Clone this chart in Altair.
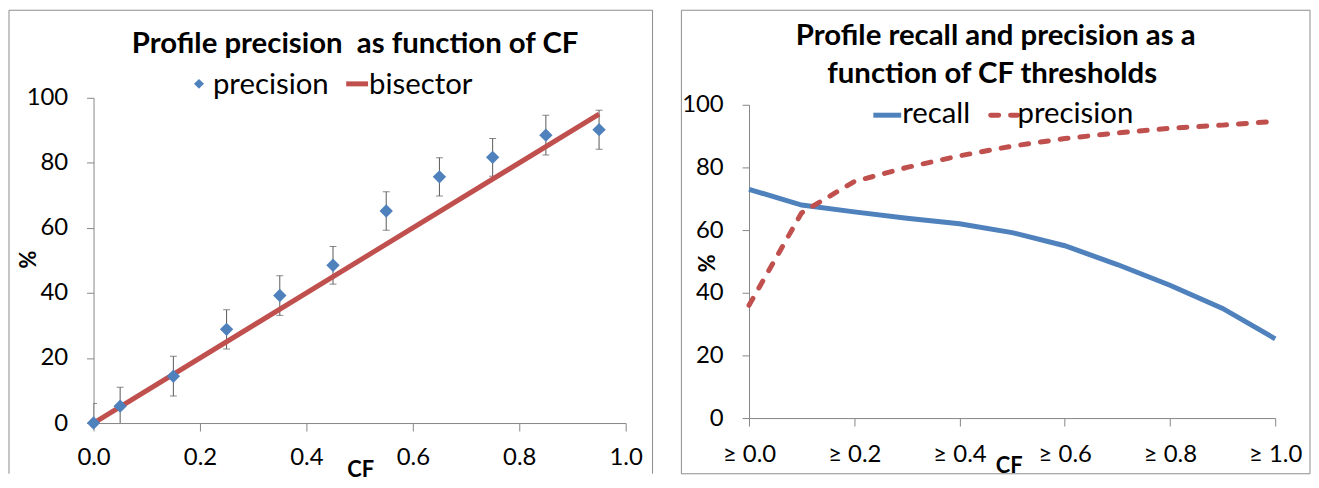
import altair as alt
import pandas as pd

# ---------------- data: left panel ----------------
cf_bins = [0.0, 0.05, 0.15, 0.25, 0.35, 0.45, 0.55, 0.65, 0.75, 0.85, 0.95]
precision_vals = [0.0, 5.2, 14.4, 28.8, 39.2, 48.5, 65.2, 75.7, 81.7, 88.5, 90.2]
precision_err = [6.0, 5.8, 6.1, 6.0, 6.1, 5.8, 5.9, 5.9, 5.8, 6.1, 6.0]
bisector_x = [0.0, 0.95]
bisector_y = [0.0, 95.0]

# ---------------- data: right panel ----------------
thresholds = [0.0, 0.1, 0.2, 0.3, 0.4, 0.5, 0.6, 0.7, 0.8, 0.9, 1.0]
recall_vals = [73.0, 68.0, 65.8, 63.8, 62.0, 59.2, 55.0, 49.0, 42.4, 35.0, 25.3]
precision_thr = [36.0, 65.5, 75.5, 80.0, 83.7, 86.8, 89.2, 91.0, 92.5, 93.5, 94.7]

left_title = "Profile precision\u00a0 as function of CF"
right_title = ["Profile recall and precision as a", "function of CF thresholds"]

FONT = "Lato"
BLUE = "#4F81BD"
RED = "#C0504D"
GREY = "#868686"
TITLE_SIZE = 29.5
LEG_SIZE = 29.5
TICK_SIZE = 24
AXIS_TITLE_SIZE = 22

left_df = pd.DataFrame({
    "cf": cf_bins,
    "precision": precision_vals,
    "low": [v - e for v, e in zip(precision_vals, precision_err)],
    "high": [v + e for v, e in zip(precision_vals, precision_err)],
})
bis_df = pd.DataFrame({"cf": bisector_x, "val": bisector_y})
right_df = pd.DataFrame({"thr": thresholds, "recall": recall_vals, "precision": precision_thr})
one = pd.DataFrame({"a": [0]})

axis_common = dict(
    labelFont=FONT, labelFontSize=TICK_SIZE, labelColor="black", labelFlush=False,
    domainColor=GREY, tickColor=GREY, grid=False,
    titleFont=FONT, titleFontSize=AXIS_TITLE_SIZE, titleFontWeight="bold", titleColor="black",
)

# ---------------- left panel ----------------
LW, LH = 535, 327
yscale_l = alt.Scale(domain=[0, 100])
lx = alt.X("cf:Q", scale=alt.Scale(domain=[0, 1]),
           axis=alt.Axis(values=[0, 0.2, 0.4, 0.6, 0.8, 1.0], format=".1f", title="CF",
                         tickSize=8, labelPadding=15, titleX=268, titleY=54,
                         titleBaseline="alphabetic", titleAlign="center", **axis_common))
ly = alt.Y("low:Q", scale=yscale_l,
           axis=alt.Axis(values=[0, 20, 40, 60, 80, 100], title="%", tickSize=7, labelPadding=19,
                         titleX=-65, titleY=162, titleAngle=270, titleBaseline="middle",
                         titleAlign="center", **axis_common))

base_l = alt.Chart(left_df)
err_rule = base_l.mark_rule(color="#595959", strokeWidth=1, clip=True).encode(
    x=lx, y=ly, y2="high:Q")
cap_hi = base_l.mark_tick(color="#595959", orient="horizontal", size=7, thickness=1, clip=True).encode(
    x="cf:Q", y=alt.Y("high:Q", scale=yscale_l, title="%"))
cap_lo = base_l.mark_tick(color="#595959", orient="horizontal", size=7, thickness=1, clip=True).encode(
    x="cf:Q", y=alt.Y("low:Q", scale=yscale_l, title="%"))
bis = alt.Chart(bis_df).mark_line(color=RED, strokeWidth=5).encode(
    x="cf:Q", y=alt.Y("val:Q", scale=yscale_l, title="%"))
pts = base_l.mark_point(shape="diamond", filled=True, color=BLUE, size=180, opacity=1).encode(
    x="cf:Q", y=alt.Y("precision:Q", scale=yscale_l, title="%"))

dec = alt.Chart(one)
l_border = [
    dec.mark_rule(color="#8c8c8c", strokeWidth=1).encode(x=alt.value(-85), y=alt.value(-88), y2=alt.value(378)),
    dec.mark_rule(color="#8c8c8c", strokeWidth=1).encode(x=alt.value(562), y=alt.value(-88), y2=alt.value(378)),
    dec.mark_rule(color="#8c8c8c", strokeWidth=1).encode(x=alt.value(-85), x2=alt.value(562), y=alt.value(-88)),
]
l_title = dec.mark_text(text=left_title, font=FONT, fontSize=TITLE_SIZE, fontWeight="bold",
                        align="center", baseline="alphabetic", color="black").encode(
    x=alt.value(263), y=alt.value(-45))
l_leg = [
    dec.mark_point(shape="diamond", filled=True, color=BLUE, size=100, opacity=1).encode(
        x=alt.value(106), y=alt.value(-14)),
    dec.mark_text(text="precision", font=FONT, fontSize=LEG_SIZE, align="left", baseline="alphabetic",
                  color="black").encode(x=alt.value(120), y=alt.value(-4)),
    dec.mark_rule(color=RED, strokeWidth=5).encode(x=alt.value(254), x2=alt.value(276), y=alt.value(-14)),
    dec.mark_text(text="bisector", font=FONT, fontSize=LEG_SIZE, align="left", baseline="alphabetic",
                  color="black").encode(x=alt.value(277), y=alt.value(-4)),
]

left = alt.layer(*l_border, l_title, *l_leg, err_rule, cap_hi, cap_lo, bis, pts).properties(
    width=LW, height=LH)

# ---------------- right panel ----------------
RW, RH = 529, 322
rx = alt.X("thr:Q", scale=alt.Scale(domain=[0, 1]),
           axis=alt.Axis(values=[0, 0.2, 0.4, 0.6, 0.8, 1.0],
                         labelExpr="'≥ ' + format(datum.value, '.1f')", title="CF",
                         tickSize=8, labelPadding=17, titleX=261, titleY=55,
                         titleBaseline="alphabetic", titleAlign="center", **axis_common))
yscale_r = alt.Scale(domain=[0, 100], range=[322, 7])
ry = alt.Y("recall:Q", scale=yscale_r,
           axis=alt.Axis(values=[0, 20, 40, 60, 80, 100], title="%", tickSize=7, labelPadding=19,
                         titleX=-42, titleY=166, titleAngle=270, titleBaseline="middle",
                         titleAlign="center", **axis_common))

base_r = alt.Chart(right_df)
rec_line = base_r.mark_line(color=BLUE, strokeWidth=5).encode(x=rx, y=ry)
prec_line = base_r.mark_line(color=RED, strokeWidth=5, strokeDash=[8, 12], strokeCap="round").encode(
    x="thr:Q", y=alt.Y("precision:Q", scale=yscale_r, title="%"))

r_border = dec.mark_rect(fill=None, stroke="#8c8c8c", strokeWidth=1).encode(
    x=alt.value(-68), x2=alt.value(564), y=alt.value(-88), y2=alt.value(378))
r_title = [
    dec.mark_text(text=right_title[0], font=FONT, fontSize=TITLE_SIZE, fontWeight="bold",
                  align="center", baseline="alphabetic", color="black").encode(
        x=alt.value(248), y=alt.value(-53.5)),
    dec.mark_text(text=right_title[1], font=FONT, fontSize=TITLE_SIZE, fontWeight="bold",
                  align="center", baseline="alphabetic", color="black").encode(
        x=alt.value(244.5), y=alt.value(-14.5)),
]
r_leg = [
    dec.mark_rule(color=BLUE, strokeWidth=5).encode(x=alt.value(125), x2=alt.value(153), y=alt.value(17.5)),
    dec.mark_text(text="recall", font=FONT, fontSize=LEG_SIZE, align="left", baseline="alphabetic",
                  color="black").encode(x=alt.value(154), y=alt.value(25.5)),
    dec.mark_rule(color=RED, strokeWidth=5, strokeDash=[8, 12], strokeCap="round").encode(
        x=alt.value(243), x2=alt.value(270), y=alt.value(17.5)),
    dec.mark_text(text="precision", font=FONT, fontSize=LEG_SIZE, align="left", baseline="alphabetic",
                  color="black").encode(x=alt.value(270), y=alt.value(25.5)),
]

right = alt.layer(r_border, *r_title, rec_line, prec_line, *r_leg).properties(width=RW, height=RH)

chart = alt.hconcat(left, right, spacing=27).properties(padding=0).configure_view(stroke=None)

chart.save("out.html", embed_options={"renderer": "svg", "actions": False})
